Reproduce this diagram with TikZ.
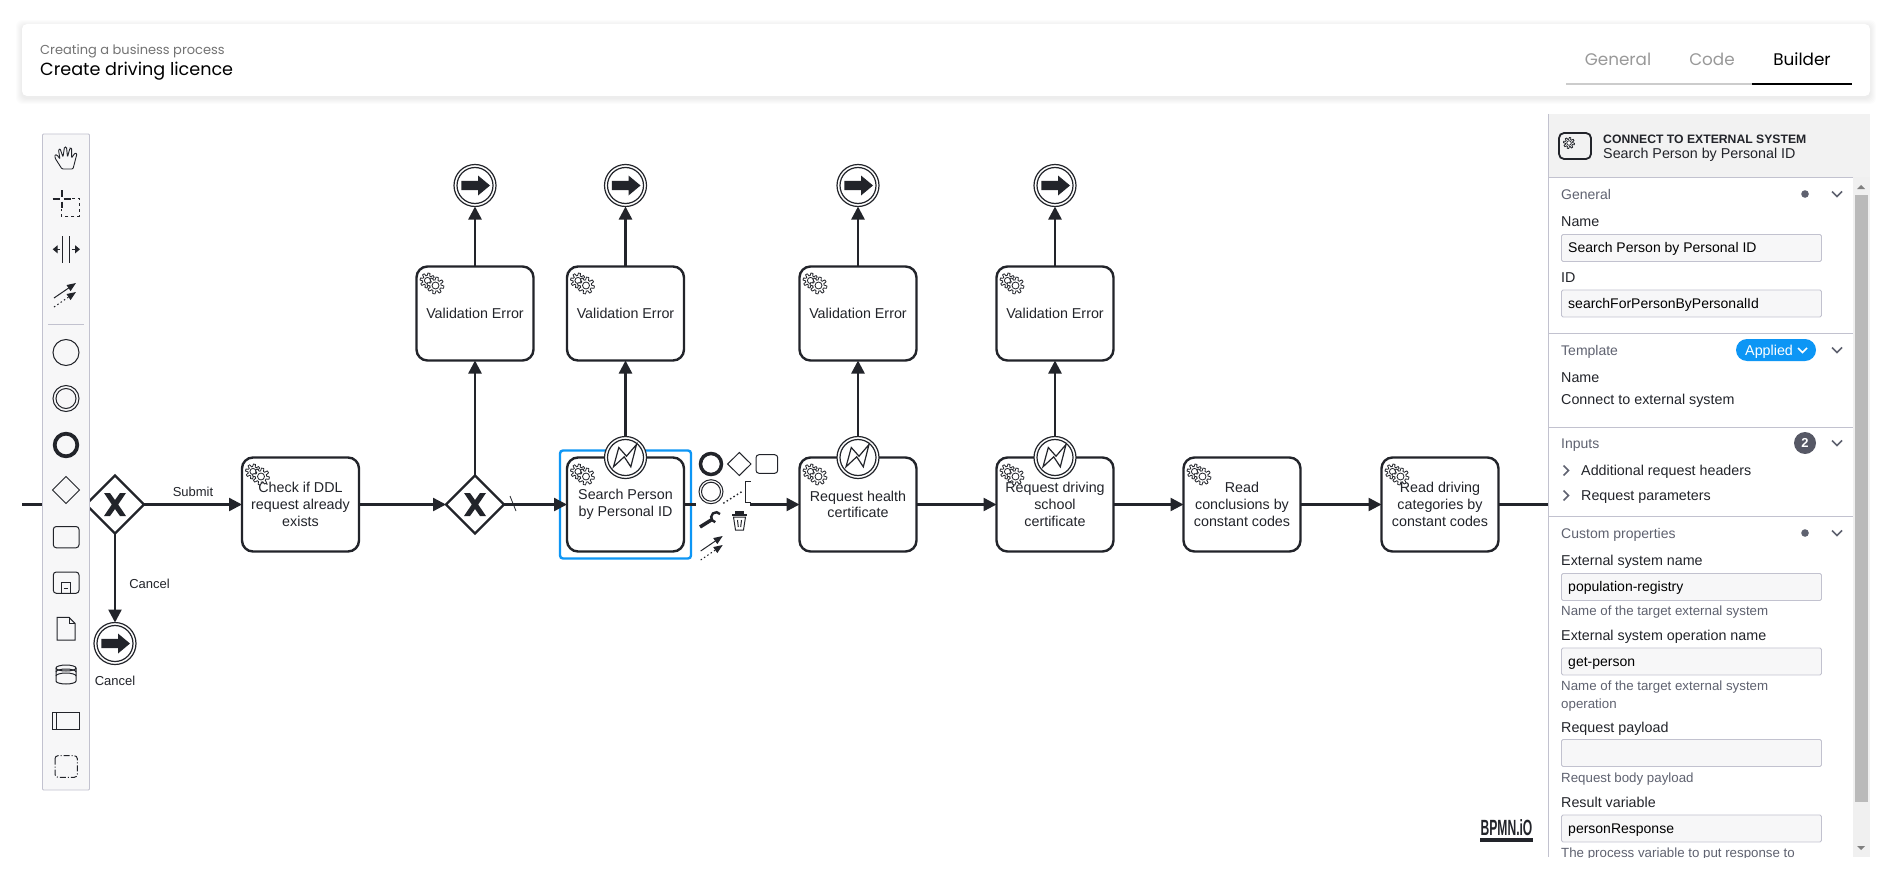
\documentclass[tikz,border=0pt]{standalone}
\usepackage{fontspec}
\setmainfont{Liberation Sans}
\newfontfamily\headfont{Poppins}
\usepackage{xcolor}
\usetikzlibrary{arrows.meta,positioning,fit,shapes.geometric}
\definecolor{ink}{HTML}{22242A}
\definecolor{rim}{HTML}{C2C2CF}
\definecolor{barbg}{HTML}{F7F7F8}
\definecolor{hint}{HTML}{5F6270}
\definecolor{sky}{HTML}{0D96F5}

\begin{document}
\begin{tikzpicture}[
  x=1pt, y=-1pt,
  task/.style={draw=ink, line width=2.4pt, rounded corners=11pt, fill=white,
               minimum width=117pt, minimum height=94pt, inner sep=0pt, outer sep=0pt,
               align=center, text=ink, font=\fontsize{14.3}{16.7}\selectfont},
  gate/.style={diamond, draw=ink, line width=2.4pt, fill=white, aspect=1,
               minimum width=58pt, minimum height=58pt, inner sep=0pt, outer sep=0pt},
  endev/.style={circle, draw=ink, line width=1.2pt, fill=white,
                minimum size=42pt, inner sep=0pt, outer sep=0pt},
  arr/.style={-{Triangle[length=13pt,width=13pt]}, ink, line width=2.4pt},
  flow/.style={ink, line width=2.4pt},
  lab/.style={text=ink, font=\fontsize{13}{15}\selectfont},
  ptxt/.style={anchor=mid west, inner sep=0pt, yshift=-2.5pt, text=ink, font=\fontsize{14.3}{16}\selectfont},
  phint/.style={ptxt, text=hint, font=\fontsize{13.3}{16}\selectfont},
  phead/.style={ptxt, text=hint, font=\fontsize{14}{16}\selectfont},
  inbox/.style={draw=rim, line width=.9pt, fill=barbg, rounded corners=1.5pt,
                minimum width=260pt, minimum height=27pt, inner sep=0pt, anchor=north west},
  intxt/.style={ptxt, text=black, font=\fontsize{14}{16}\selectfont},
  icon/.style={draw=ink, line width=1pt},
  tabt/.style={font=\headfont\fontsize{16.8}{18}\selectfont, inner sep=0pt},
  chev/.style={draw=hint, line width=1.6pt},
  gear/.pic={
    \draw[ink, line width=.8pt, fill=white] plot[domain=0:360, samples=97]
      (\x:{#1*(1+.2*min(1,max(-1,3*sin(8*\x))))}) -- cycle;
    \draw[ink, line width=.8pt] (0,0) circle ({#1*.5});
  },
  gears/.pic={
    \path (11,14) pic {gear=6.2};
    \path (19,19) pic {gear=7};
  },
  crossx/.pic={
    \fill[ink] (-11,-11.5) -- (-5,-11.5) -- (0,-4.5) -- (5,-11.5) -- (11,-11.5) -- (3.2,0)
      -- (11,11.5) -- (5,11.5) -- (0,4.5) -- (-5,11.5) -- (-11,11.5) -- (-3.2,0) -- cycle;
  },
  endmark/.pic={
    \draw[ink, line width=1.2pt] (0,0) circle (18);
    \fill[ink] (-13.7,-4.7) -- (3,-4.7) -- (3,-10) -- (15,0) -- (3,10) -- (3,4.7) -- (-13.7,4.7) -- cycle;
  },
  boltmark/.pic={
    \draw[ink, line width=1.2pt] (0,0) circle (18);
    \draw[ink, line width=1.2pt] (-12,9.3) -- (-6.7,-10) -- (1,-1.3) -- (11,-13) -- (5.3,9.3) -- (-1.3,-.7) -- cycle;
  },
  arrowpair/.pic={
    \draw[ink, line width=1pt, -{Triangle[length=9pt,width=7pt]}] (0,0) -- (22,-15);
    \draw[ink, line width=1pt, dash pattern=on 1.5pt off 2.5pt, -{Triangle[length=9pt,width=7pt]}] (0,9) -- (22,-6);
  },
]
\useasboundingbox (0,0) rectangle (1892,872);
\fill[white] (0,0) rectangle (1892,872);

% title card
\foreach \s in {6,5,4,3,2,1}
  \fill[black, opacity=.012, rounded corners=6pt] (22-\s,24-\s+2) rectangle (1870+\s,96+\s+2);
\node[draw=none, fill=white, rounded corners=5pt, inner sep=0pt, minimum width=1848pt,
      minimum height=72pt] (card) at (946,60) {};
\node[anchor=mid west, inner sep=0pt, yshift=-3.5pt, text=black!55, font=\headfont\fontsize{13}{15}\selectfont]
  (crumb) at (40,48) {Creating a business process};
\node[anchor=mid west, inner sep=0pt, yshift=-3.5pt, text=black, font=\headfont\fontsize{17.6}{19}\selectfont]
  (title) at (40,69) {Create driving licence};
\node[tabt, text=black!40] (tabgen) at (1618,59) {General};
\node[tabt, text=black!40] (tabcode) at (1712,59) {Code};
\node[tabt, text=black] (tabbuild) at (1802,59) {Builder};
\draw[black!20, line width=2pt] (1566,84) -- (1752,84);
\draw[black, line width=2pt] (1752,84) -- (1852,84);

% process row
\node[gate] (gw1) at (115,504.5) {};
\node[task, right=98pt of gw1] (check) {Check if DDL\\request already\\exists};
\node[gate, right=87pt of check] (gw2) {};
\node[task, right=63pt of gw2] (search) {Search Person\\by Personal ID};
\node[task, right=115.5pt of search] (health) {Request health\\certificate};
\node[task, right=80pt of health] (school) {Request driving\\school\\certificate};
\node[task, right=70pt of school] (concl) {Read\\conclusions by\\constant codes};
\node[task, right=81pt of concl] (categ) {Read driving\\categories by\\constant codes};
\coordinate (flowin) at (22,504.5);
\coordinate (flowout) at (1549,504.5);

\node[task, above=115pt of gw2] (val1) {Validation Error};
\node[task, above=97pt of search] (val2) {Validation Error};
\node[task, above=97pt of health] (val3) {Validation Error};
\node[task, above=97pt of school] (val4) {Validation Error};
\node[endev, above=60pt of val1] (end1) {};
\node[endev, above=60pt of val2] (end2) {};
\node[endev, above=60pt of val3] (end3) {};
\node[endev, above=60pt of val4] (end4) {};
\node[endev, below=89pt of gw1] (endcancel) {};
\node[lab, below=8pt of endcancel] (cancellab) {Cancel};
\node[lab] (submitlab) at (193,492) {Submit};
\node[lab] (cancelflow) at (149.5,584) {Cancel};

\node[draw=sky, line width=2.4pt, rounded corners=3pt, inner sep=7pt, fit=(search)] (selbox) {};

\draw[flow] (flowin) -- (gw1.west);
\draw[arr] (gw1) -- (check);
\draw[arr] (gw1) -- (endcancel);
\draw[arr] (check) -- (gw2);
\draw[arr] (gw2) -- (search);
\draw[arr] (search) -- (health);
\draw[arr] (health) -- (school);
\draw[arr] (school) -- (concl);
\draw[arr] (concl) -- (categ);
\draw[flow] (categ) -- (flowout);
\draw[ink, line width=.8pt] (510,496) -- (516,511);

\draw[arr] (gw2) -- (val1);
\node[endev] (bolt1) at (search.north) {};
\node[endev] (bolt2) at (health.north) {};
\node[endev] (bolt3) at (school.north) {};
\draw[arr] (bolt1) -- (val2);
\draw[arr] (bolt2) -- (val3);
\draw[arr] (bolt3) -- (val4);
\draw[arr] (val1) -- (end1);
\draw[arr] (val2) -- (end2);
\draw[arr] (val3) -- (end3);
\draw[arr] (val4) -- (end4);

\path (gw1) pic {crossx};
\path (gw2) pic {crossx};
\path (end1) pic {endmark};
\path (end2) pic {endmark};
\path (end3) pic {endmark};
\path (end4) pic {endmark};
\path (endcancel) pic {endmark};
\path (bolt1) pic {boltmark};
\path (bolt2) pic {boltmark};
\path (bolt3) pic {boltmark};
\path (check.north west) pic {gears};
\path (search.north west) pic {gears};
\path (health.north west) pic {gears};
\path (school.north west) pic {gears};
\path (concl.north west) pic {gears};
\path (categ.north west) pic {gears};
\path (val1.north west) pic {gears};
\path (val2.north west) pic {gears};
\path (val3.north west) pic {gears};
\path (val4.north west) pic {gears};

% context pad of the selected task
\fill[white] (696,452) rectangle (752,503);
\fill[white] (696,506) rectangle (752,566);
\fill[white] (696,503) rectangle (750,506);
\draw[ink, line width=3.5pt] (711,464) circle (10.5);
\draw[icon] (739.3,452.5) -- (751,464) -- (739.3,475.5) -- (727.6,464) -- cycle;
\draw[icon, rounded corners=3pt] (756,454.7) rectangle (777.7,473.3);
\draw[icon] (711,491.7) circle (12) (711,491.7) circle (9.5);
\draw[ink, line width=1.4pt, dash pattern=on 1.5pt off 2.5pt] (723.3,503.3) -- (743.3,490.7);
\draw[ink, line width=1pt] (750.7,481.3) -- (745,481.3) -- (745,502.3) -- (750.7,502.3);
\draw[ink, line width=3.5pt] (700,527) -- (712,519.5);
\draw[ink, line width=2.4pt] (720,514) arc (-40:-260:5);
\draw[ink, line width=1pt] (733.5,517) -- (735.5,530) -- (743.5,530) -- (745.5,517) -- cycle;
\draw[ink, line width=1pt] (737.5,520) -- (738.3,527) (741.5,520) -- (740.7,527);
\fill[ink] (731.7,514) rectangle (747,516);
\fill[ink] (735,510.5) rectangle (744,514);
\path (700.7,551) pic {arrowpair};

% toolbar
\node[draw=rim, line width=.9pt, fill=barbg, rounded corners=1pt, inner sep=0pt,
      minimum width=47pt, minimum height=656pt] (toolbar) at (66,462) {};
\draw[icon, rounded corners=1pt, line width=.9pt] (62,169) -- (55,158) -- (55,154.5) -- (57,155) -- (60,159)
  -- (58.5,150) -- (60,148.5) -- (63,157) -- (64.5,147) -- (66.5,147) -- (67.5,157) -- (70,148)
  -- (71.7,148.5) -- (71.5,158) -- (75,153) -- (77,153.5) -- (73,169) -- cycle;
\draw[ink, line width=2pt] (52.7,199) -- (59.5,199) (63.5,199) -- (70.7,199)
  (61.7,190) -- (61.7,196.5) (61.7,201.5) -- (61.7,207.7);
\draw[icon, dashed, dash pattern=on 3pt off 3pt] (72,198.3) -- (79.3,198.3) -- (79.3,216) -- (61.3,216) -- (61.3,209);
\draw[icon] (62.3,236) -- (62.3,262.7) (69.3,236) -- (69.3,262.7);
\draw[ink, line width=1.6pt, -{Triangle[length=5pt,width=8pt]}] (60,249.3) -- (52.7,249.3);
\draw[ink, line width=1.6pt, -{Triangle[length=5pt,width=8pt]}] (71.7,249.3) -- (80,249.3);
\path (54,298) pic {arrowpair};
\draw[rim, line width=.9pt] (48.3,324.3) -- (84,324.3);
\draw[icon] (66,352.5) circle (13);
\draw[icon] (66,398.5) circle (13) (66,398.5) circle (10);
\draw[ink, line width=3.8pt] (66,445) circle (11.3);
\draw[icon] (66,476.5) -- (79.5,490) -- (66,503.5) -- (52.5,490) -- cycle;
\draw[icon, rounded corners=3pt] (53.3,526.5) rectangle (79,547.8);
\draw[icon, rounded corners=3pt] (53.3,572) rectangle (79,593.3);
\draw[icon, line width=.8pt] (61,593) -- (61,582.7) -- (70.7,582.7) -- (70.7,593);
\draw[icon, line width=.8pt] (63.5,588) -- (68.2,588);
\draw[icon] (57,617.3) -- (69,617.3) -- (75,623.3) -- (75,640) -- (57,640) -- cycle;
\draw[icon] (69,617.3) -- (69,623.3) -- (75,623.3);
\draw[icon] (56,668) arc (180:360:10 and 3) -- (76,681) arc (0:180:10 and 3) -- cycle;
\draw[icon] (56,668) arc (180:0:10 and 3);
\draw[icon] (56,672) arc (180:0:10 and -3) (56,676) arc (180:0:10 and -3);
\draw[icon] (52.7,712) rectangle (79.3,729.3);
\draw[icon] (56.7,712) -- (56.7,729.3);
\draw[icon, rounded corners=3pt, dash pattern=on 6pt off 2pt on 1pt off 2pt] (55,755.7) rectangle (77.3,777.3);

% bpmn.io mark
\node[xscale=.55, font=\bfseries\fontsize{22}{23}\selectfont, text=ink, inner sep=0pt] (logo) at (1506.5,828) {BPMN.iO};
\fill[ink] (1480,838) rectangle (1533,842);

% properties panel
\begin{scope}
\clip (1540,100) rectangle (1892,857);
\fill[white] (1548,114) rectangle (1870,857);
\node[draw=none, fill=black!5, inner sep=0pt, minimum width=322pt, minimum height=63pt] (pahead) at (1709,145.5) {};
\draw[rim, line width=.9pt] (1548,114) -- (1548,857);
\draw[rim, line width=.9pt] (1548,177) -- (1870,177);
\draw[ink, line width=1.8pt, rounded corners=5pt] (1559,133) rectangle (1591,159);
\path (1569,143) pic {gear=4.6};
\node[ptxt, font=\bfseries\fontsize{12.2}{14}\selectfont] (patype) at (1603,138) {CONNECT TO EXTERNAL SYSTEM};
\node[ptxt] (paname) at (1603,153) {Search Person by Personal ID};

\fill[black!6] (1853,177) rectangle (1870,857);
\fill[black!27] (1855,195) rectangle (1868,802);
\fill[black!50] (1857,189) -- (1861,185) -- (1865,189) -- cycle;
\fill[black!50] (1857,846) -- (1861,850) -- (1865,846) -- cycle;
\draw[rim, line width=.9pt] (1548,333) -- (1853,333) (1548,427) -- (1853,427) (1548,516) -- (1853,516);

\node[phead] (genhead) at (1561,194) {General};
\fill[hint] (1805,194) circle (3.8);
\draw[chev] (1832,191.5) -- (1837,196.5) -- (1842,191.5);
\node[ptxt] (namelab) at (1561,221) {Name};
\node[inbox] (namebox) at (1561,234) {};
\node[intxt] (nameval) at (1568,247) {Search Person by Personal ID};
\node[ptxt] (idlab) at (1561,277) {ID};
\node[inbox] (idbox) at (1561,289.5) {};
\node[intxt] (idval) at (1568,303) {searchForPersonByPersonalId};

\node[phead] (temphead) at (1561,350) {Template};
\node[draw=none, fill=sky, rounded corners=11pt, inner sep=0pt, minimum width=80pt, minimum height=22pt] (pill) at (1776,350) {};
\node[ptxt, text=white] (pilltxt) at (1745,350) {Applied};
\draw[white, line width=1.6pt] (1798,348) -- (1802.5,352.5) -- (1807,348);
\draw[chev] (1832,347.5) -- (1837,352.5) -- (1842,347.5);
\node[ptxt] (tempname) at (1561,377) {Name};
\node[ptxt] (tempval) at (1561,399) {Connect to external system};

\node[phead] (inhead) at (1561,443) {Inputs};
\node[circle, fill=hint!90!black, inner sep=0pt, minimum size=22pt, text=white, font=\bfseries\fontsize{13}{15}\selectfont] (badge) at (1805,443) {2};
\draw[chev] (1832,440.5) -- (1837,445.5) -- (1842,440.5);
\draw[chev] (1563.5,465.5) -- (1568.5,470.5) -- (1563.5,475.5);
\node[ptxt, text=ink] (addhead) at (1581,470) {Additional request headers};
\draw[chev] (1563.5,490.5) -- (1568.5,495.5) -- (1563.5,500.5);
\node[ptxt, text=ink] (reqpar) at (1581,495) {Request parameters};

\node[phead] (cushead) at (1561,533) {Custom properties};
\fill[hint] (1805,533) circle (3.8);
\draw[chev] (1832,530.5) -- (1837,535.5) -- (1842,530.5);
\node[ptxt] (syslab) at (1561,560) {External system name};
\node[inbox] (sysbox) at (1561,573) {};
\node[intxt] (sysval) at (1568,586) {population-registry};
\node[phint] (syshint) at (1561,610) {Name of the target external system};
\node[ptxt] (oplab) at (1561,635) {External system operation name};
\node[inbox] (opbox) at (1561,647.5) {};
\node[intxt] (opval) at (1568,661) {get-person};
\node[phint] (ophint) at (1561,685) {Name of the target external system};
\node[phint] (ophintb) at (1561,703) {operation};
\node[ptxt] (paylab) at (1561,727) {Request payload};
\node[inbox] (paybox) at (1561,739) {};
\node[phint] (payhint) at (1561,777) {Request body payload};
\node[ptxt] (reslab) at (1561,802) {Result variable};
\node[inbox] (resbox) at (1561,814.5) {};
\node[intxt] (resval) at (1568,828) {personResponse};
\node[phint] (reshint) at (1561,852) {The process variable to put response to};
\end{scope}
\end{tikzpicture}
\end{document}
